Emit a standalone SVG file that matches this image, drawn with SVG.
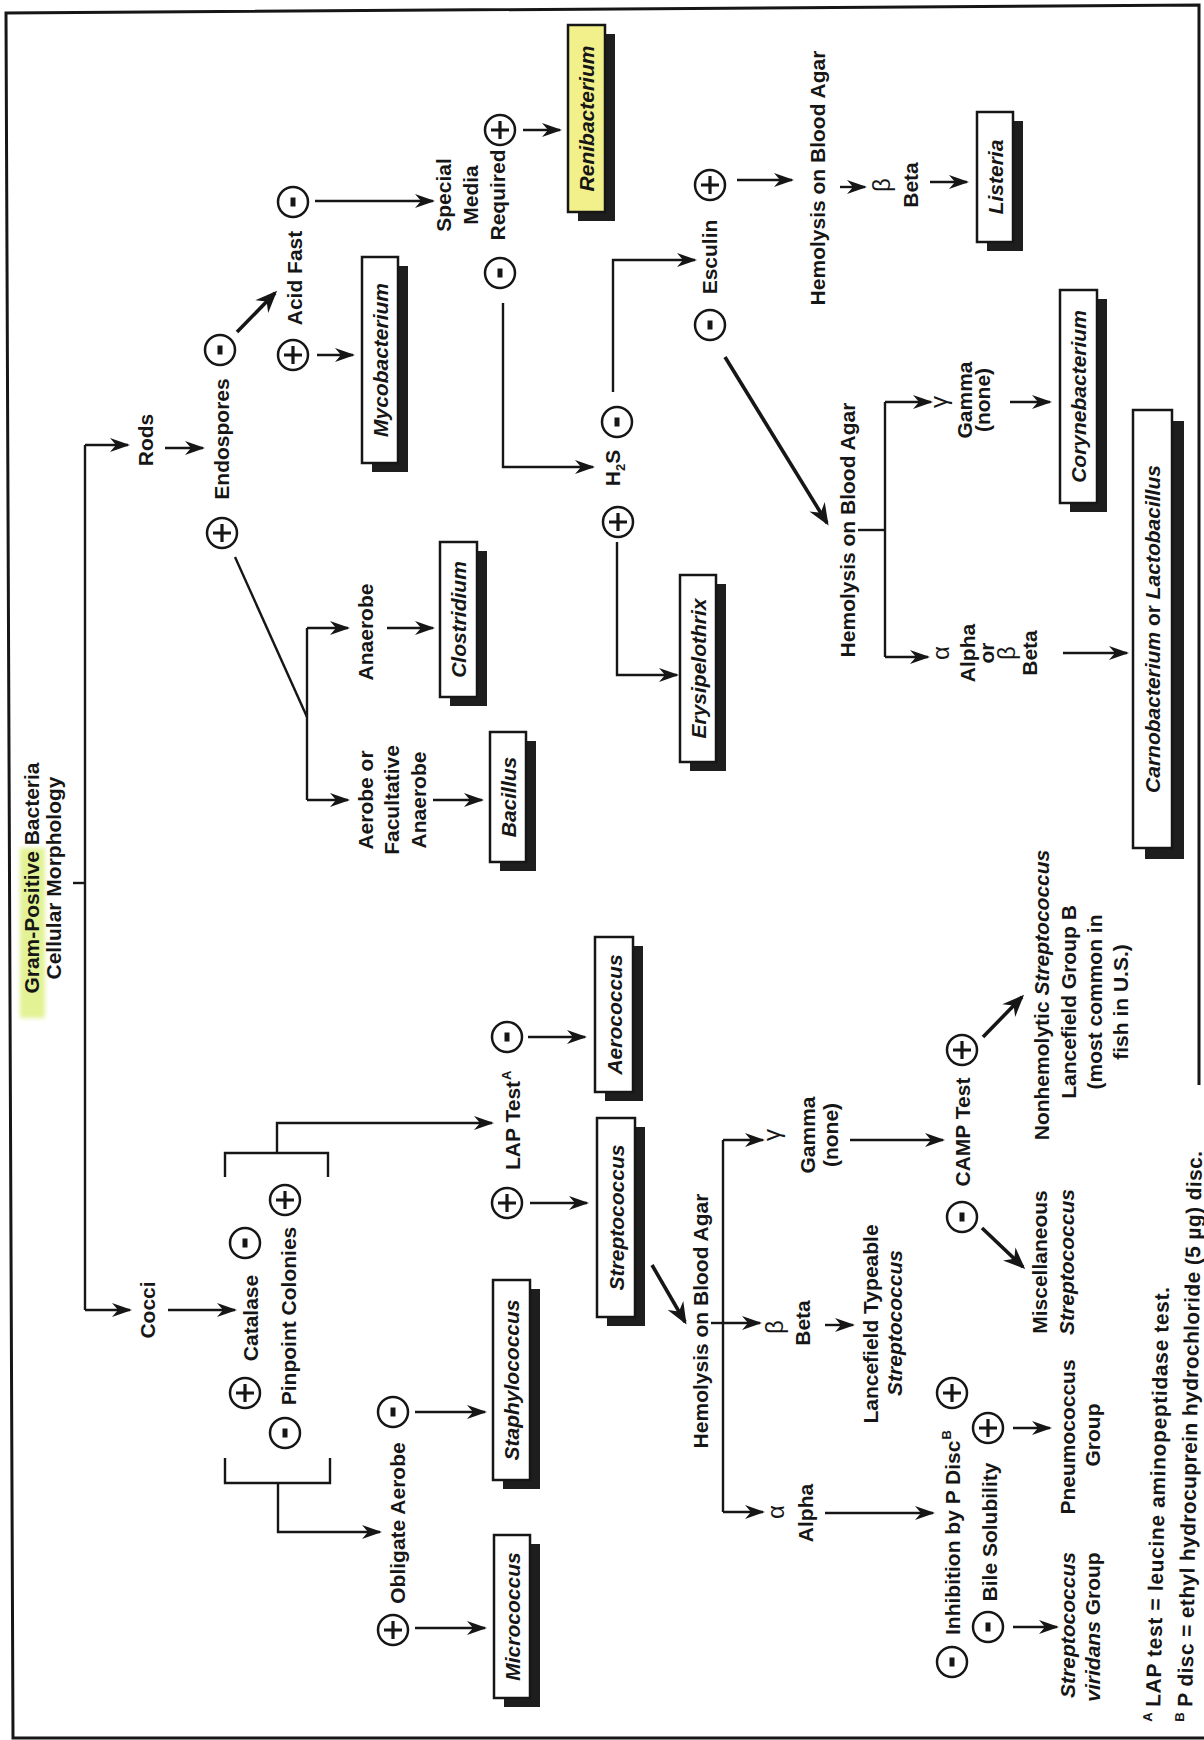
<svg xmlns="http://www.w3.org/2000/svg" width="1204" height="1740" viewBox="0 0 1204 1740">
<defs>
<style>
text{font-family:"Liberation Sans",Arial,Helvetica,sans-serif;font-size:21px;font-weight:bold;fill:#161616}
.c{text-anchor:middle}
.i{font-style:italic}
.gr{font-weight:normal;font-size:24px}
.sup{font-size:13px}
.ln{fill:none;stroke:#161616;stroke-width:2.4}
.ar{fill:none;stroke:#161616;stroke-width:2.4;marker-end:url(#ah)}
.th{fill:none;stroke:#161616;stroke-width:3.6;marker-end:url(#ahb)}
.box{fill:#fff;stroke:#161616;stroke-width:2.5}
.ybox{fill:#f2f08a;stroke:#161616;stroke-width:2.5}
.sh{fill:#1e1e1e}
.circ{fill:#fff;stroke:#161616;stroke-width:2.5}
</style>
<filter id="soft" x="-10%" y="-30%" width="120%" height="160%"><feGaussianBlur stdDeviation="2"/></filter>
<marker id="ah" viewBox="-22 -9 26 18" refX="0" refY="0" markerWidth="26" markerHeight="18" markerUnits="userSpaceOnUse" orient="auto">
<path d="M2,0 L-18,-7 L-12,0 L-18,7 Z" fill="#161616"/>
</marker>
<marker id="ahb" viewBox="-24 -11 28 22" refX="0" refY="0" markerWidth="28" markerHeight="22" markerUnits="userSpaceOnUse" orient="auto">
<path d="M3,0 L-19,-9 L-12,0 L-19,9 Z" fill="#161616"/>
</marker>
<g id="p"><circle r="15" class="circ"/><path d="M-9,0H9M0,-9V9" stroke="#161616" stroke-width="3.2"/></g>
<g id="m"><circle r="15" class="circ"/><rect x="-4.5" y="-2.5" width="9" height="5" fill="#161616"/></g>
</defs>
<rect width="1204" height="1740" fill="#fff"/>
<path id="frame" d="M1199,1085 L1199,5 L6,13 L13,1738 L1204,1738" fill="none" stroke="#161616" stroke-width="3"/>
<g transform="translate(0,1740) rotate(-90)">
<g id="connectors">
<path class="ln" d="M857,73 V85"/>
<path class="ln" d="M430,85 H1295"/>
<path class="ar" d="M1295,85 V128"/>
<path class="ar" d="M430,85 V130"/>
<path class="ar" d="M1292,165 V203"/>
<path class="th" d="M1408,237 L1447,275"/>
<path class="ar" d="M1539,315 V433"/>
<path class="ar" d="M1385,317 V353"/>
<path class="ar" d="M1610,523 V560"/>
<path class="ar" d="M1437,503 H1273 V593"/>
<path class="ar" d="M1348,613 H1480 V695"/>
<path class="ar" d="M1560,737 V792"/>
<path class="ar" d="M1553,840 V865"/>
<path class="ar" d="M1558,930 V967"/>
<path class="th" d="M1383,725 L1217,827"/>
<path class="ln" d="M1210,858 V885"/>
<path class="ln" d="M1338,885 H1083"/>
<path class="ar" d="M1338,885 V931"/>
<path class="ar" d="M1083,885 V928"/>
<path class="ar" d="M1338,1010 V1050"/>
<path class="ar" d="M1087,1063 V1127"/>
<path class="ln" d="M1183,235 L1023,307"/>
<path class="ln" d="M1112,307 H940"/>
<path class="ar" d="M1112,307 V348"/>
<path class="ar" d="M940,307 V348"/>
<path class="ar" d="M1112,387 V433"/>
<path class="ar" d="M940,433 V482"/>
<path class="ar" d="M1198,617 H1065 V677"/>
<path class="ar" d="M430,168 V235"/>
<path class="ln" d="M282,225 H257 V330 H282"/>
<path class="ar" d="M257,278 H208 V380"/>
<path class="ln" d="M563,225 H587 V328 H563"/>
<path class="ar" d="M587,277 H617 V492"/>
<path class="ar" d="M328,415 V485"/>
<path class="ar" d="M112,415 V485"/>
<path class="ar" d="M703,528 V585"/>
<path class="ar" d="M537,530 V587"/>
<path class="th" d="M475,652 L418,685"/>
<path class="ln" d="M417,711 V723"/>
<path class="ln" d="M600,723 H228"/>
<path class="ar" d="M600,723 V763"/>
<path class="ar" d="M417,723 V760"/>
<path class="ar" d="M228,723 V763"/>
<path class="ar" d="M600,850 V943"/>
<path class="th" d="M703,983 L743,1022"/>
<path class="th" d="M512,982 L473,1023"/>
<path class="ar" d="M415,825 V853"/>
<path class="ar" d="M227,825 V933"/>
<path class="ar" d="M312,1013 V1050"/>
<path class="ar" d="M113,1013 V1057"/>
</g>

<g id="n-title">
<rect x="722" y="20" width="170" height="25" fill="#e3f294" filter="url(#soft)"/>
<text class="c" x="862" y="39">Gram-Positive Bacteria</text>
<text class="c" x="862" y="61">Cellular Morphology</text>
</g>
<g id="n-rods"><text class="c" x="1300" y="153">Rods</text></g>
<g id="n-cocci"><text class="c" x="430" y="155">Cocci</text></g>
<g id="n-endospores">
<use href="#p" x="1207" y="222"/>
<text class="c" x="1301" y="229">Endospores</text>
<use href="#m" x="1390" y="220"/>
</g>
<g id="n-acidfast">
<use href="#p" x="1385" y="293"/>
<text class="c" x="1462" y="302">Acid Fast</text>
<use href="#m" x="1538" y="293"/>
</g>
<g id="n-specialmedia">
<text class="c" x="1545" y="451">Special</text>
<text class="c" x="1545" y="478">Media</text>
<use href="#m" x="1467" y="500"/>
<text class="c" x="1545" y="505">Required</text>
<use href="#p" x="1610" y="500"/>
</g>
<g id="n-h2s">
<use href="#p" x="1218" y="618"/>
<text class="c" x="1272" y="620">H<tspan class="sup" dy="5">2</tspan><tspan dy="-5">S</tspan></text>
<use href="#m" x="1318" y="617"/>
</g>
<g id="n-esculin">
<use href="#m" x="1415" y="710"/>
<text class="c" x="1483" y="717">Esculin</text>
<use href="#p" x="1555" y="710"/>
</g>
<g id="n-hemo-listeria"><text class="c" x="1562" y="825">Hemolysis on Blood Agar</text></g>
<g id="n-beta-listeria">
<text class="c gr" x="1555" y="890">β</text>
<text class="c" x="1555" y="918">Beta</text>
</g>
<g id="n-hemo-rods"><text class="c" x="1210" y="855">Hemolysis on Blood Agar</text></g>
<g id="n-gamma-rods">
<text class="c gr" x="1338" y="947">γ</text>
<text class="c" x="1340" y="972">Gamma</text>
<text class="c" x="1340" y="990">(none)</text>
</g>
<g id="n-alphabeta-rods">
<text class="c gr" x="1087" y="949">α</text>
<text class="c" x="1087" y="975">Alpha</text>
<text class="c" x="1087" y="994">or</text>
<text class="c gr" x="1087" y="1015">β</text>
<text class="c" x="1087" y="1037">Beta</text>
</g>
<g id="n-anaerobe"><text class="c" x="1108" y="373">Anaerobe</text></g>
<g id="n-aerobe">
<text class="c" x="940" y="373">Aerobe or</text>
<text class="c" x="940" y="399">Facultative</text>
<text class="c" x="940" y="426">Anaerobe</text>
</g>
<g id="n-catalase">
<use href="#p" x="347" y="245"/>
<text class="c" x="422" y="258">Catalase</text>
<use href="#m" x="497" y="245"/>
</g>
<g id="n-pinpoint">
<use href="#m" x="307" y="285"/>
<text class="c" x="424" y="296">Pinpoint Colonies</text>
<use href="#p" x="540" y="285"/>
</g>
<g id="n-obligate">
<use href="#p" x="110" y="393"/>
<text class="c" x="217" y="405">Obligate Aerobe</text>
<use href="#m" x="328" y="393"/>
</g>
<g id="n-lap">
<use href="#p" x="537" y="507"/>
<text x="570" y="520">LAP Test<tspan class="sup" dx="1" dy="-9">A</tspan></text>
<use href="#m" x="703" y="507"/>
</g>
<g id="n-hemo-cocci"><text class="c" x="419" y="708">Hemolysis on Blood Agar</text></g>
<g id="n-gamma-cocci">
<text class="c gr" x="605" y="780">γ</text>
<text class="c" x="605" y="815">Gamma</text>
<text class="c" x="605" y="838">(none)</text>
</g>
<g id="n-camp">
<use href="#m" x="523" y="962"/>
<text class="c" x="608" y="970">CAMP Test</text>
<use href="#p" x="690" y="962"/>
</g>
<g id="n-nonhemolytic">
<text class="c" x="745" y="1049">Nonhemolytic <tspan class="i">Streptococcus</tspan></text>
<text class="c" x="738" y="1076">Lancefield Group B</text>
<text class="c" x="738" y="1102">(most common in</text>
<text class="c" x="738" y="1128">fish in U.S.)</text>
</g>
<g id="n-misc">
<text class="c" x="478" y="1047">Miscellaneous</text>
<text class="c i" x="478" y="1074">Streptococcus</text>
</g>
<g id="n-beta-cocci">
<text class="c gr" x="413" y="783">β</text>
<text class="c" x="417" y="810">Beta</text>
</g>
<g id="n-lancefield">
<text class="c" x="416" y="878">Lancefield Typeable</text>
<text class="c i" x="417" y="902">Streptococcus</text>
</g>
<g id="n-alpha-cocci">
<text class="c gr" x="228" y="784">α</text>
<text class="c" x="227" y="813">Alpha</text>
</g>
<g id="n-inhibition">
<use href="#m" x="78" y="952"/>
<text x="105" y="960">Inhibition by P Disc<tspan class="sup" dx="1" dy="-9">B</tspan></text>
<use href="#p" x="347" y="952"/>
</g>
<g id="n-bile">
<use href="#m" x="113" y="988"/>
<text class="c" x="208" y="997">Bile Solubility</text>
<use href="#p" x="312" y="988"/>
</g>
<g id="n-pneumococcus">
<text class="c" x="303" y="1075">Pneumococcus</text>
<text class="c" x="305" y="1100">Group</text>
</g>
<g id="n-viridans">
<text class="c i" x="115" y="1075">Streptococcus</text>
<text class="c" x="113" y="1100"><tspan class="i">viridans</tspan> Group</text>
</g>

<g id="n-mycobacterium"><rect class="sh" x="1268" y="372" width="206" height="36"/><rect class="box" x="1277" y="362" width="206" height="36"/><text class="c i" x="1380" y="387.5">Mycobacterium</text></g>
<g id="n-renibacterium"><rect class="sh" x="1519" y="578" width="187" height="37"/><rect class="ybox" x="1528" y="568" width="187" height="37"/><text class="c i" x="1621.5" y="594">Renibacterium</text></g>
<g id="n-listeria"><rect class="sh" x="1489" y="987" width="130" height="36"/><rect class="box" x="1498" y="977" width="130" height="36"/><text class="c i" x="1563" y="1002.5">Listeria</text></g>
<g id="n-corynebacterium"><rect class="sh" x="1228" y="1070" width="213" height="37"/><rect class="box" x="1237" y="1060" width="213" height="37"/><text class="c i" x="1343.5" y="1086">Corynebacterium</text></g>
<g id="n-carnobacterium"><rect class="sh" x="881" y="1145" width="438" height="39"/><rect class="box" x="892" y="1133" width="438" height="39"/><text class="c" x="1111" y="1160"><tspan class="i">Carnobacterium</tspan> or <tspan class="i">Lactobacillus</tspan></text></g>
<g id="n-clostridium"><rect class="sh" x="1034" y="450" width="155" height="37"/><rect class="box" x="1043" y="440" width="155" height="37"/><text class="c i" x="1120.5" y="466">Clostridium</text></g>
<g id="n-bacillus"><rect class="sh" x="869" y="500" width="130" height="36"/><rect class="box" x="878" y="490" width="130" height="36"/><text class="c i" x="943" y="515.5">Bacillus</text></g>
<g id="n-erysipelothrix"><rect class="sh" x="969" y="690" width="187" height="36"/><rect class="box" x="978" y="680" width="187" height="36"/><text class="c i" x="1071.5" y="705.5">Erysipelothrix</text></g>
<g id="n-staphylococcus"><rect class="sh" x="251" y="503" width="200" height="37"/><rect class="box" x="260" y="493" width="200" height="37"/><text class="c i" x="360" y="519">Staphylococcus</text></g>
<g id="n-micrococcus"><rect class="sh" x="33" y="504" width="163" height="36"/><rect class="box" x="42" y="494" width="163" height="36"/><text class="c i" x="123.5" y="519.5">Micrococcus</text></g>
<g id="n-aerococcus"><rect class="sh" x="639" y="605" width="155" height="38"/><rect class="box" x="648" y="595" width="155" height="38"/><text class="c i" x="725.5" y="621.5">Aerococcus</text></g>
<g id="n-streptococcus"><rect class="sh" x="414" y="607" width="199" height="38"/><rect class="box" x="423" y="597" width="199" height="38"/><text class="c i" x="522.5" y="623.5">Streptococcus</text></g>

<g id="footnotes">
<g transform="rotate(1.2 18 1160)">
<text x="18" y="1152" class="sup">A</text>
<text x="33" y="1160" textLength="420" lengthAdjust="spacing">LAP test = leucine aminopeptidase test.</text>
</g>
<g transform="rotate(1 18 1192)">
<text x="18" y="1184" class="sup">B</text>
<text x="33" y="1192" textLength="556" lengthAdjust="spacing">P disc = ethyl hydrocuprein hydrochloride (5 µg) disc.</text>
</g>
</g>
</g>
</svg>
